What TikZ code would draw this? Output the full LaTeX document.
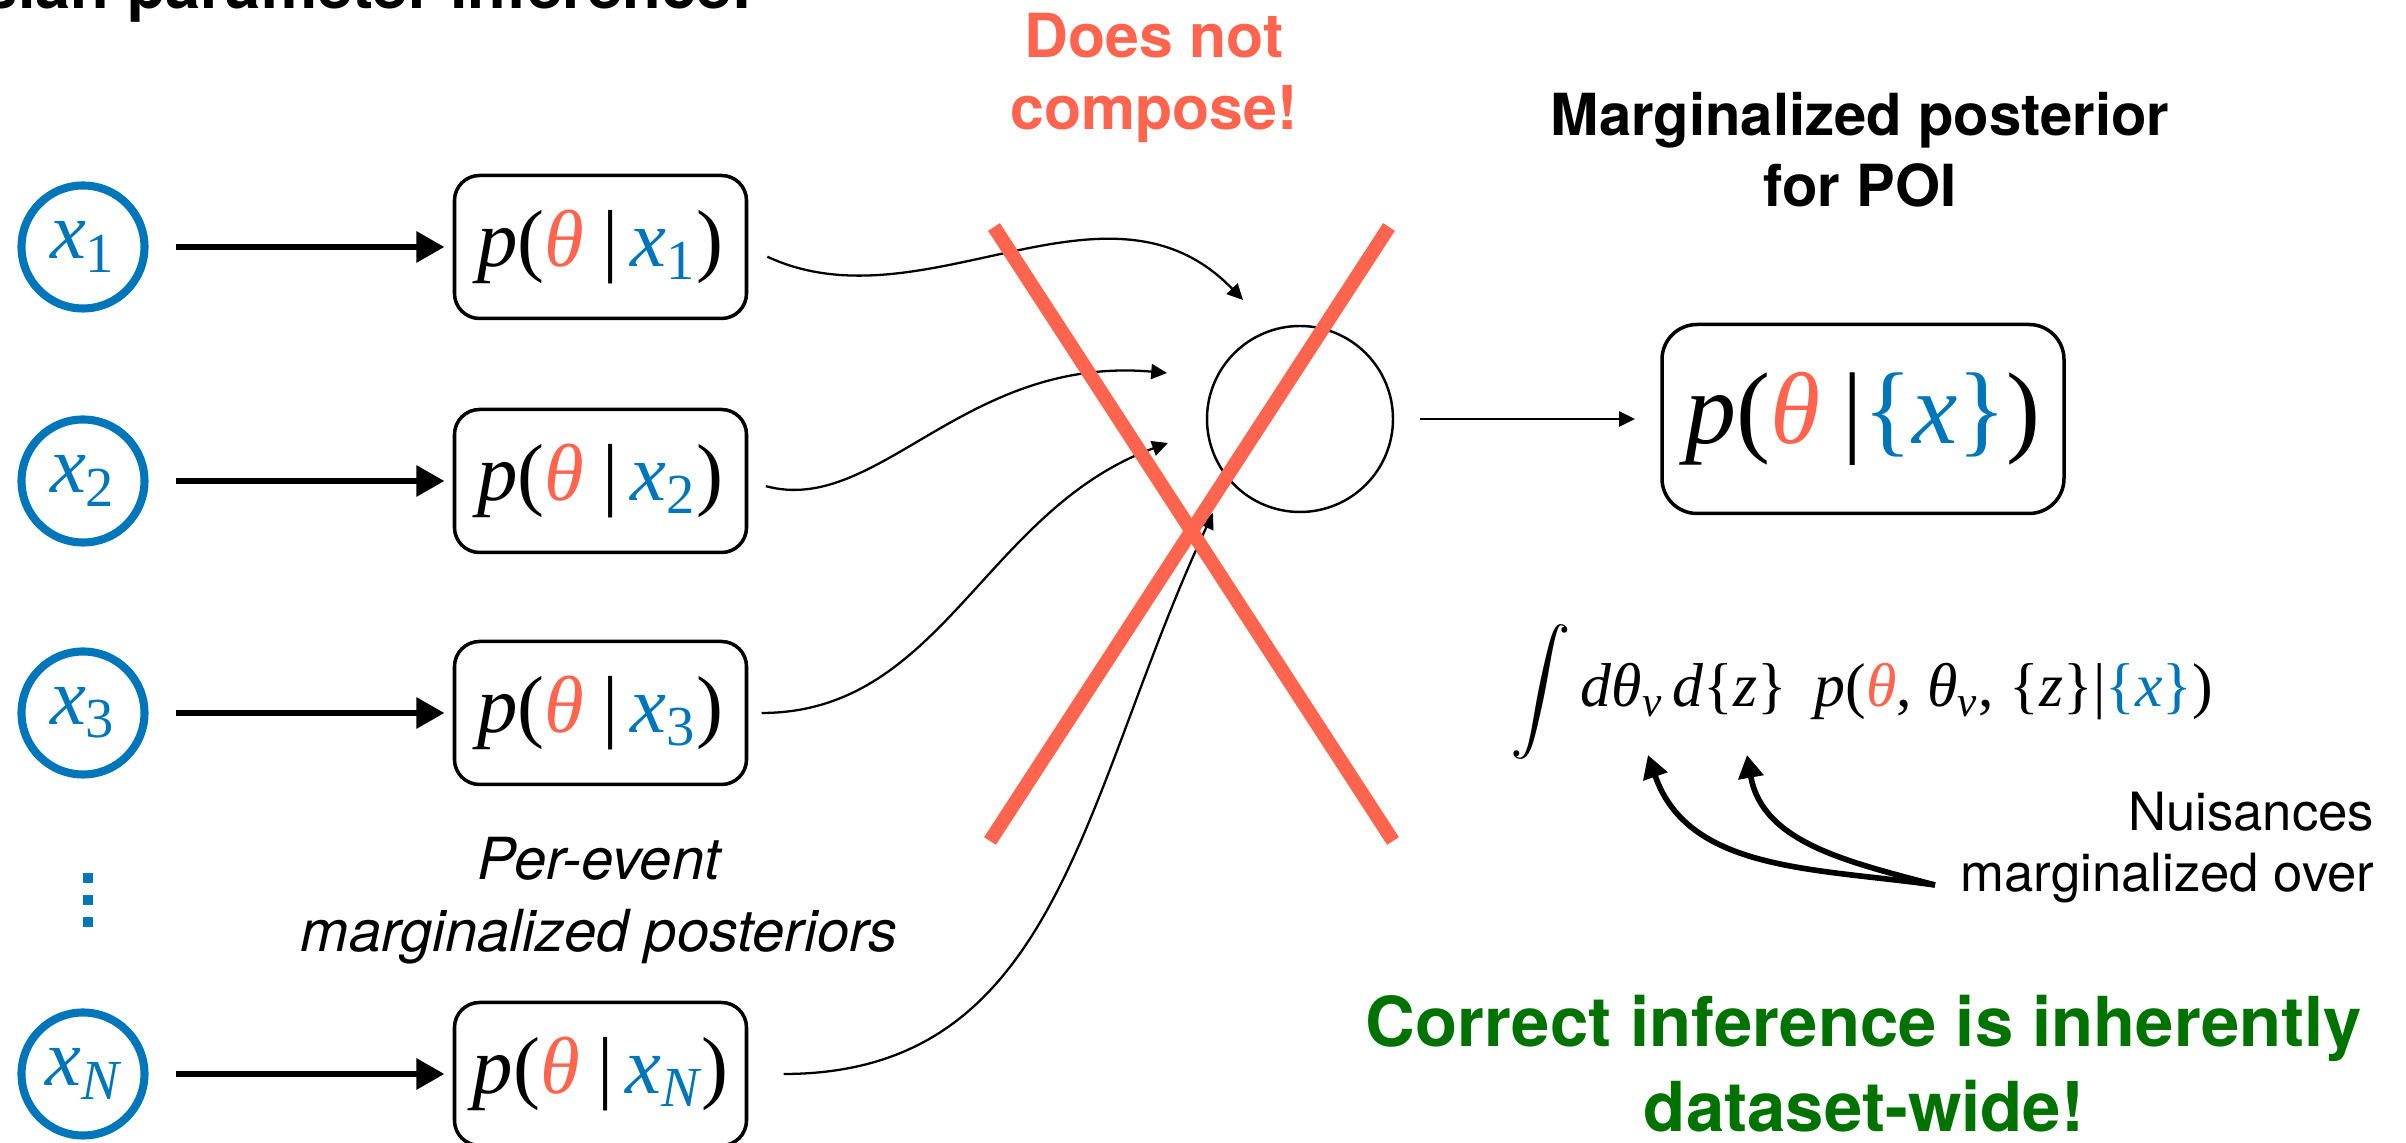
\documentclass[tikz,border=0pt]{standalone}
\usepackage{amsmath}
\usepackage{fontspec}
\setmainfont{TeX Gyre Heros}
\newfontfamily\tms{Liberation Serif}
\usetikzlibrary{positioning,arrows.meta}
\definecolor{obs}{RGB}{0,118,186}
\definecolor{poi}{RGB}{255,100,78}
\definecolor{good}{RGB}{0,114,0}
\newcommand{\Th}{\textcolor{poi}{θ}}
\newcommand{\vx}[1]{x\textsubscript{\upshape #1}}
\newcommand{\post}[1]{p\upshape(\itshape\Th\upshape\hspace{0.22em}|\hspace{0.15em}\itshape\textcolor{obs}{\vx{#1}}\upshape)}

\begin{document}
\begin{tikzpicture}[
		obsnode/.style={circle, draw=obs, text=obs, line width=2.3pt, minimum size=1.23cm,
			inner sep=0pt, outer sep=0pt, font=\tms\itshape\fontsize{23}{23}\selectfont},
		postbox/.style={draw, rounded corners=0.25cm, line width=1pt, minimum width=2.92cm,
			minimum height=1.43cm, inner sep=0pt, outer sep=0pt, font=\tms\itshape\fontsize{23}{23}\selectfont},
		fat/.style={-{Triangle[length=8pt,width=8.5pt]}, line width=1.8pt},
		feed/.style={-{Triangle[length=4.5pt,width=4.3pt]}, line width=0.65pt},
		nuis/.style={-{Triangle[length=6.5pt,width=7pt]}, line width=1.6pt},
		cross/.style={poi, line width=4pt}]
		\useasboundingbox (0,0) rectangle (24.06,11.43);
		\node[anchor=base east, font=\bfseries\fontsize{18}{18}\selectfont] (title) at (7.65,11.34)
			{sian parameter inference:};
		\node[obsnode] (x1) at (0.83,8.96) {\vx{1}};
		\node[obsnode] (x2) at (0.83,6.62) {\vx{2}};
		\node[obsnode] (x3) at (0.83,4.30) {\vx{3}};
		\node[obsnode] (xN) at (0.83,0.69) {\vx{\itshape N}};
		\foreach \k in {0,1,2}
			\fill[obs] (0.83,2.16+0.22*\k) rectangle ++(0.1,0.1);
		\node[postbox, right=3.1cm of x1] (p1) {\post{1}};
		\node[postbox, right=3.1cm of x2] (p2) {\post{2}};
		\node[postbox, right=3.1cm of x3] (p3) {\post{3}};
		\node[postbox, right=3.1cm of xN] (pN) {\post{\itshape N}};
		\foreach \i in {1,2,3,N}
			\draw[fat, shorten <=0.31cm, shorten >=0.1cm] (x\i) -- (p\i);
		\node[align=center, font=\itshape\fontsize{16.5}{20.5}\selectfont] (perev) at (5.99,2.42)
			{Per-event\\marginalized posteriors};

		\node[circle, draw, line width=0.7pt, minimum size=1.86cm] (comb) at (13.00,7.24) {};
		\coordinate (in1) at ([shift={(-0.57,1.19)}]comb.center);
		\coordinate (in2) at ([shift={(-1.33,0.46)}]comb.center);
		\coordinate (in3) at ([shift={(-1.32,-0.24)}]comb.center);
		\coordinate (inN) at ([shift={(-0.87,-0.94)}]comb.center);
		\draw[feed, shorten <=0.23cm] (p1.east) to[out=-25, in=134] (in1);
		\draw[feed, shorten <=0.2cm] (p2.east) to[out=-15, in=175, out looseness=0.8, in looseness=1.2] (in2);
		\draw[feed, shorten <=0.15cm] (p3.east) to[out=0, in=200] (in3);
		\draw[feed, shorten <=0.37cm] (pN.east) to[out=0, in=245, looseness=1.1] (inN);

		\node[postbox, rounded corners=0.35cm, minimum width=4.02cm, minimum height=1.89cm,
			font=\tms\itshape\fontsize{29}{29}\selectfont] (big) at (18.63,7.24)
			{p\upshape(\itshape\Th\upshape\hspace{0.22em}|\textcolor{obs}{\{\itshape x\upshape\}})};
		\draw[feed, shorten <=0.26cm, shorten >=0.27cm] (comb) -- (big);
		\node[align=center, font=\bfseries\fontsize{16.5}{20.2}\selectfont] (poi) at (18.60,9.93)
			{Marginalized posterior\\for POI};
		\node[align=center, text=poi, font=\bfseries\fontsize{17.3}{20.7}\selectfont] (nocomp) at (11.54,10.65)
			{Does not\\compose!};

		\node[anchor=base, font=\tms\fontsize{17.6}{17.6}\selectfont] (integ) at (18.62,4.36)
			{$\displaystyle\int$\hspace{0.15em}\itshape dθ\textsubscript{ν}\hspace{0.15em}d\upshape\{\itshape z\upshape\}\hspace{0.45em}%
			\itshape p\upshape(\itshape\Th\upshape, \itshape θ\textsubscript{ν}\upshape, \{\itshape z\upshape\}|\textcolor{obs}{\{\itshape x\upshape\}})};
		\node[align=right, anchor=south east, inner sep=0pt, font=\fontsize{15}{17.4}\selectfont] (nuis) at (23.75,2.39)
			{Nuisances\\marginalized over};
		\coordinate (dA) at (16.48,3.88);
		\coordinate (dB) at (17.47,3.88);
		\draw[nuis] ([shift={(-0.25,0.19)}]nuis.south west) to[out=172, in=-71] (dA);
		\draw[nuis] ([shift={(-0.25,0.19)}]nuis.south west) to[out=165, in=-80] (dB);
		\node[align=center, text=good, font=\bfseries\fontsize{19.6}{24.2}\selectfont] (wide) at (18.64,0.79)
			{Correct inference is inherently\\dataset-wide!};

		\draw[cross] (9.94,9.16) -- (13.93,3.02);
		\draw[cross] (13.89,9.16) -- (9.90,3.02);
	\end{tikzpicture}
\end{document}
